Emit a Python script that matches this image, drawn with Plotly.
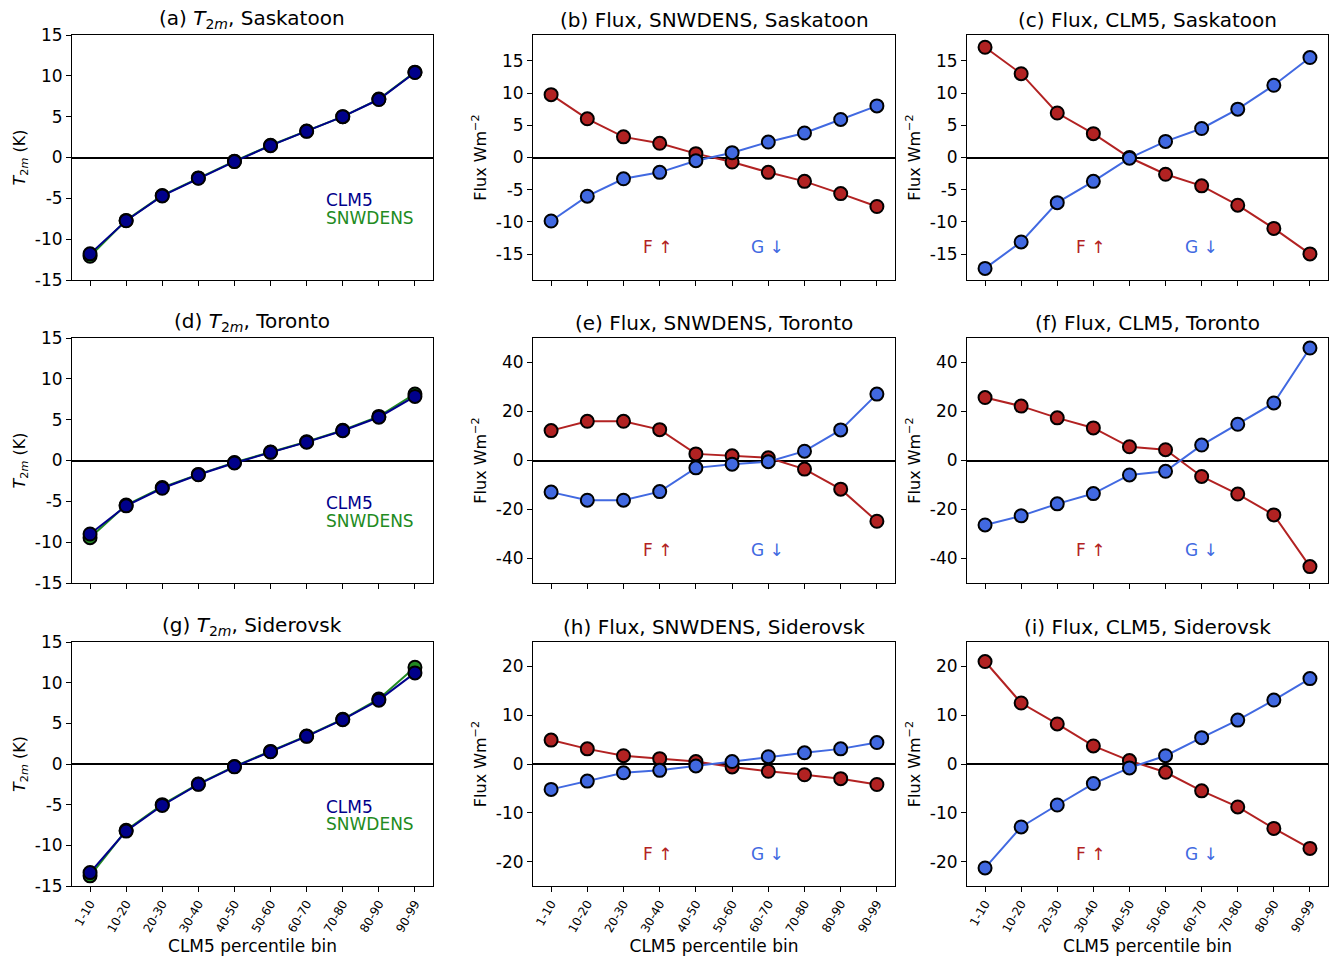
import plotly.graph_objects as go

bins = ["1-10", "10-20", "20-30", "30-40", "40-50", "50-60", "60-70", "70-80", "80-90", "90-99"]

# T2m (K)
t2m_clm5_sask = [-11.8, -7.75, -4.7, -2.55, -0.5, 1.45, 3.2, 5.0, 7.1, 10.4]
t2m_snw_sask = [-12.1, -7.7, -4.65, -2.5, -0.45, 1.5, 3.25, 5.0, 7.15, 10.45]
t2m_clm5_tor = [-9.0, -5.55, -3.4, -1.75, -0.3, 1.0, 2.25, 3.65, 5.3, 7.85]
t2m_snw_tor = [-9.45, -5.45, -3.3, -1.7, -0.25, 1.05, 2.3, 3.7, 5.4, 8.15]
t2m_clm5_sid = [-13.35, -8.25, -5.1, -2.5, -0.35, 1.5, 3.4, 5.45, 7.85, 11.2]
t2m_snw_sid = [-13.75, -8.15, -5.0, -2.45, -0.3, 1.55, 3.45, 5.5, 8.0, 11.9]

# Flux (W m-2): F up (red), G down (blue)
f_snw_sask = [9.75, 6.0, 3.2, 2.2, 0.6, -0.7, -2.3, -3.7, -5.6, -7.6]
g_snw_sask = [-9.85, -6.0, -3.3, -2.3, -0.5, 0.75, 2.4, 3.8, 5.9, 8.0]
f_clm5_sask = [17.1, 13.0, 6.9, 3.7, 0.0, -2.6, -4.4, -7.4, -11.0, -14.95]
g_clm5_sask = [-17.2, -13.1, -7.0, -3.7, -0.1, 2.5, 4.5, 7.5, 11.2, 15.5]
f_snw_tor = [12.2, 16.0, 16.0, 12.6, 2.7, 1.9, 1.1, -3.5, -11.7, -24.8]
g_snw_tor = [-12.9, -16.2, -16.2, -12.7, -3.0, -1.5, -0.5, 3.8, 12.5, 27.1]
f_clm5_tor = [25.7, 22.2, 17.4, 13.3, 5.6, 4.4, -6.5, -13.7, -22.2, -43.3]
g_clm5_tor = [-26.3, -22.6, -17.7, -13.5, -5.9, -4.4, 6.3, 14.8, 23.5, 45.9]
f_snw_sid = [4.9, 3.1, 1.7, 1.1, 0.5, -0.6, -1.5, -2.2, -3.0, -4.2]
g_snw_sid = [-5.2, -3.5, -1.8, -1.3, -0.4, 0.5, 1.5, 2.3, 3.1, 4.4]
f_clm5_sid = [21.0, 12.5, 8.2, 3.7, 0.7, -1.7, -5.5, -8.8, -13.2, -17.3]
g_clm5_sid = [-21.3, -12.9, -8.4, -4.0, -0.8, 1.7, 5.4, 9.0, 13.1, 17.5]

titles = [
    "(a) <i>T</i><sub>2<i>m</i></sub>, Saskatoon", "(b) Flux, SNWDENS, Saskatoon", "(c) Flux, CLM5, Saskatoon",
    "(d) <i>T</i><sub>2<i>m</i></sub>, Toronto", "(e) Flux, SNWDENS, Toronto", "(f) Flux, CLM5, Toronto",
    "(g) <i>T</i><sub>2<i>m</i></sub>, Siderovsk", "(h) Flux, SNWDENS, Siderovsk", "(i) Flux, CLM5, Siderovsk",
]

t_ticks = [-15, -10, -5, 0, 5, 10, 15]
flux_ticks_row = [[-15, -10, -5, 0, 5, 10, 15], [-40, -20, 0, 20, 40], [-20, -10, 0, 10, 20]]
flux_range_row = [19, 50, 25]

W, H = 1329, 956
col_px = [(72, 433), (533, 895), (967, 1328)]
row_px = [(35, 280), (338, 583), (642, 886)]

NAVY = "#00008B"
GREEN = "#228B22"
RED = "#B22222"
BLUE = "#4169E1"
FONT = "DejaVu Sans"

fig = go.Figure()
layout = {}
annotations = []

t2m_data = [(t2m_clm5_sask, t2m_snw_sask), (t2m_clm5_tor, t2m_snw_tor), (t2m_clm5_sid, t2m_snw_sid)]
flux_data = [
    [(f_snw_sask, g_snw_sask), (f_clm5_sask, g_clm5_sask)],
    [(f_snw_tor, g_snw_tor), (f_clm5_tor, g_clm5_tor)],
    [(f_snw_sid, g_snw_sid), (f_clm5_sid, g_clm5_sid)],
]

xs = list(range(len(bins)))


def add_line(vals, color, xa, ya):
    fig.add_trace(go.Scatter(
        x=xs, y=vals, mode="lines+markers", xaxis=xa, yaxis=ya,
        line=dict(color=color, width=2),
        marker=dict(color=color, size=13, line=dict(color="black", width=2)),
        showlegend=False, hoverinfo="skip"))


def label(xa, ya, x, y, text, color, size=17):
    annotations.append(dict(xref=xa + " domain", yref=ya + " domain", x=x, y=y,
                            xanchor="left", yanchor="middle", text=text, showarrow=False,
                            borderpad=0, font=dict(family=FONT, size=size, color=color)))


for r in range(3):
    for c in range(3):
        idx = r * 3 + c + 1
        key = "" if idx == 1 else str(idx)
        xa, ya = "x" + key, "y" + key
        x0, x1 = col_px[c]
        y0, y1 = row_px[r]
        dx = [x0 / W, x1 / W]
        dy = [1 - y1 / H, 1 - y0 / H]
        if c == 0:
            clm, snw = t2m_data[r]
            add_line(snw, GREEN, xa, ya)
            add_line(clm, NAVY, xa, ya)
            yt = t_ticks
            yr = [-15, 15]
            ytitle = "<i>T</i><sub>2<i>m</i></sub> (K)"
            label(xa, ya, 0.7, 0.325, "CLM5", NAVY)
            label(xa, ya, 0.7, 0.254, "SNWDENS", GREEN)
        else:
            f, g = flux_data[r][c - 1]
            add_line(f, RED, xa, ya)
            add_line(g, BLUE, xa, ya)
            yt = flux_ticks_row[r]
            m = flux_range_row[r]
            yr = [-m, m]
            ytitle = "Flux Wm<sup>−2</sup>"
            label(xa, ya, 0.3, 0.133, "F ↑", RED)
            label(xa, ya, 0.6, 0.133, "G ↓", BLUE)
        annotations.append(dict(xref=xa + " domain", yref=ya + " domain", x=0.5, y=1.0,
                                xanchor="center", yanchor="bottom", yshift=1, text=titles[idx - 1],
                                showarrow=False, font=dict(family=FONT, size=20, color="black")))
        xaxis = dict(
            domain=dx, anchor=ya, range=[-0.5, 9.5], automargin=False,
            tickmode="array", tickvals=xs,
            ticktext=bins,
            showticklabels=(r == 2), tickangle=-60,
            tickfont=dict(family=FONT, size=12, color="black"),
            ticks="outside", ticklen=5, tickwidth=1, tickcolor="black",
            showline=True, linecolor="black", linewidth=1, mirror=True,
            showgrid=False, zeroline=False,
        )
        if r == 2:
            xaxis["title"] = dict(text="CLM5 percentile bin",
                                  font=dict(family=FONT, size=17, color="black"), standoff=6)
        layout["xaxis" + key] = xaxis
        layout["yaxis" + key] = dict(
            domain=dy, anchor=xa, range=yr, automargin=False,
            tickmode="array", tickvals=yt, ticktext=[str(v) for v in yt],
            tickfont=dict(family=FONT, size=17, color="black"),
            ticks="outside", ticklen=5, tickwidth=1, tickcolor="black",
            showline=True, linecolor="black", linewidth=1, mirror=True,
            showgrid=False, zeroline=True, zerolinecolor="black", zerolinewidth=1.6,
            title=dict(text=ytitle, font=dict(family=FONT, size=16, color="black"), standoff=5),
        )

fig.update_layout(
    width=W, height=H, margin=dict(l=0, r=0, t=0, b=0),
    paper_bgcolor="white", plot_bgcolor="white",
    font=dict(family=FONT, color="black"),
    annotations=annotations,
    **layout,
)

fig.write_html("out.html")
